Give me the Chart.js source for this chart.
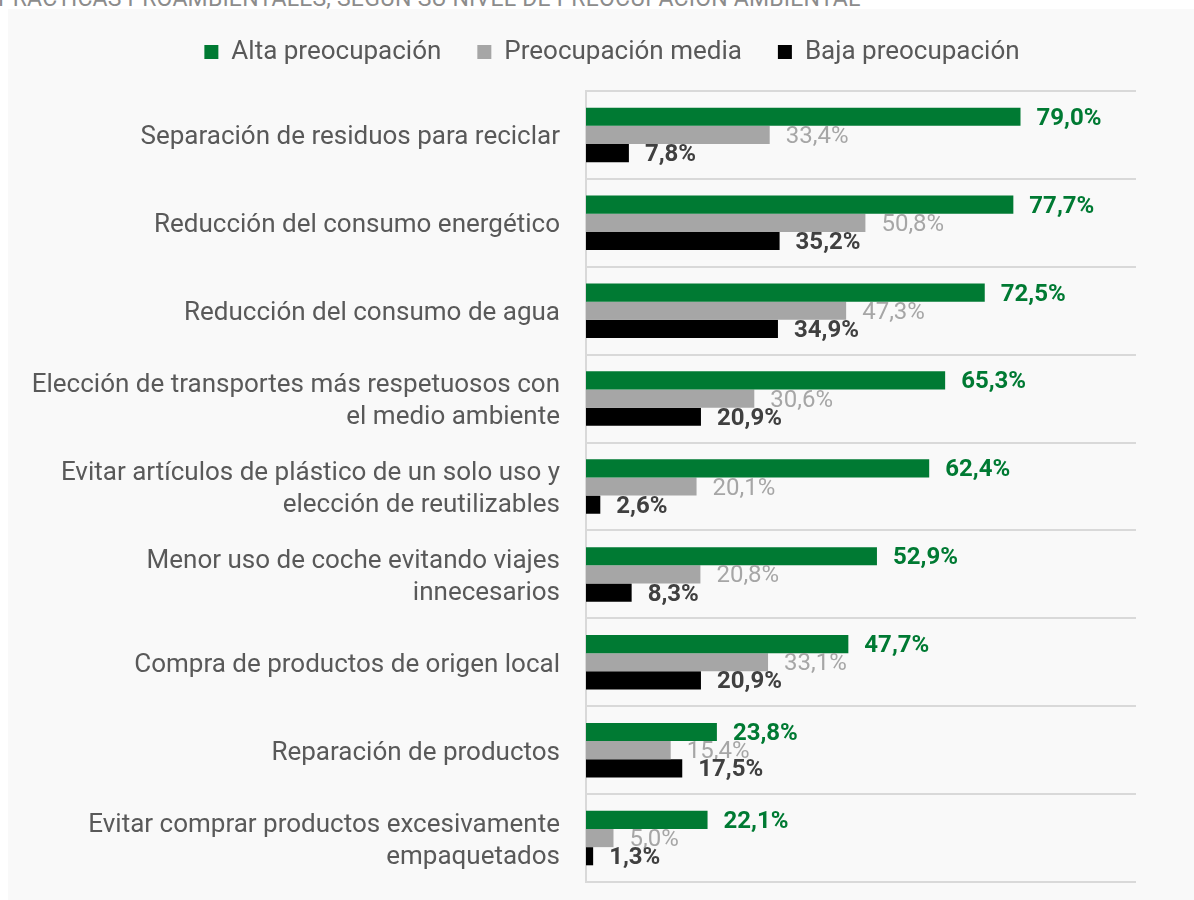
<!DOCTYPE html>
<html>
<head>
<meta charset="utf-8">
<script src="https://cdn.jsdelivr.net/npm/chart.js@4"></script>
<style>
body{margin:0;background:#fff;font-family:Roboto,sans-serif;overflow:hidden}
#title{position:absolute;left:-2px;top:-15px;font-size:23px;color:#8c8c8c;white-space:nowrap;letter-spacing:0.2px}
#panel{position:absolute;left:8px;top:9px;width:1186px;height:891px;background:#f9f9f9}
</style>
</head>
<body>
<div id="title">PRÁCTICAS PROAMBIENTALES, SEGÚN SU NIVEL DE PREOCUPACIÓN AMBIENTAL</div>
<div id="panel"><canvas id="chart"></canvas></div>
<script>

const categories = [
["Separación de residuos para reciclar"],
["Reducción del consumo energético"],
["Reducción del consumo de agua"],
["Elección de transportes más respetuosos con","el medio ambiente"],
["Evitar artículos de plástico de un solo uso y","elección de reutilizables"],
["Menor uso de coche evitando viajes","innecesarios"],
["Compra de productos de origen local"],
["Reparación de productos"],
["Evitar comprar productos excesivamente","empaquetados"]
]

const alta = [79.0,77.7,72.5,65.3,62.4,52.9,47.7,23.8,22.1]
const media = [33.4,50.8,47.3,30.6,20.1,20.8,33.1,15.4,5.0]
const baja = [7.8,35.2,34.9,20.9,2.6,8.3,20.9,17.5,1.3]

const seriesNames = ["Alta preocupación","Preocupación media","Baja preocupación"]

/* ---------------- LABELS ON BARS ---------------- */

const barLabels = {
id:"barLabels",
afterDatasetsDraw(chart){
const ctx = chart.ctx
chart.data.datasets.forEach((ds,i)=>{
const meta = chart.getDatasetMeta(i)
ctx.save()
ctx.font = ds.labelFont
ctx.fillStyle = ds.labelColor
ctx.textBaseline = "middle"
ctx.textAlign = "left"
meta.data.forEach((bar,j)=>{
const txt = ds.data[j].toFixed(1).replace(".",",") + "%"
ctx.fillText(txt, bar.x + 16, bar.y + 2)
})
ctx.restore()
})
}
}

/* legend: more room below it, and sit a bit right like the original */
const legendFix = {
id:"legendFix",
beforeInit(chart){
const fit = chart.legend.fit
chart.legend.fit = function(){
fit.bind(chart.legend)()
this.height += 16
}
},
afterLayout(chart){
chart.legend.left += 80
}
}

new Chart(document.getElementById("chart"),{

type:"bar",

data:{
labels:categories,
datasets:[
{
label:seriesNames[0],
data:alta,
backgroundColor:"#007a33",
labelColor:"#007a33",
labelFont:"bold 24px Roboto"
},
{
label:seriesNames[1],
data:media,
backgroundColor:"#a6a6a6",
labelColor:"#a6a6a6",
labelFont:"24px Roboto"
},
{
label:seriesNames[2],
data:baja,
backgroundColor:"#000000",
labelColor:"#404040",
labelFont:"bold 24px Roboto"
}
]
},

plugins:[barLabels,legendFix],

options:{
indexAxis:"y",
responsive:true,
maintainAspectRatio:false,
animation:false,
layout:{padding:{left:0,right:58,top:-6,bottom:18}},
datasets:{bar:{categoryPercentage:0.62,barPercentage:1}},
plugins:{
tooltip:{enabled:false},
legend:{
position:"top",
labels:{
boxWidth:14,
boxHeight:14,
padding:36,
color:"#595959",
font:{family:"Roboto",size:26}
}
}
},
scales:{
x:{
display:false,
min:0,
max:100
},
y:{
afterFit(scale){
scale.width = 578
scale.paddingTop = 0
scale.paddingBottom = 0
},
grid:{color:"#d9d9d9",lineWidth:2,drawTicks:false},
border:{color:"#d9d9d9",width:2},
ticks:{
padding:26,
labelOffset:3,
color:"#595959",
font:{family:"Roboto",size:26,lineHeight:1.23}
}
}
}
}

})

</script>
</body>
</html>
